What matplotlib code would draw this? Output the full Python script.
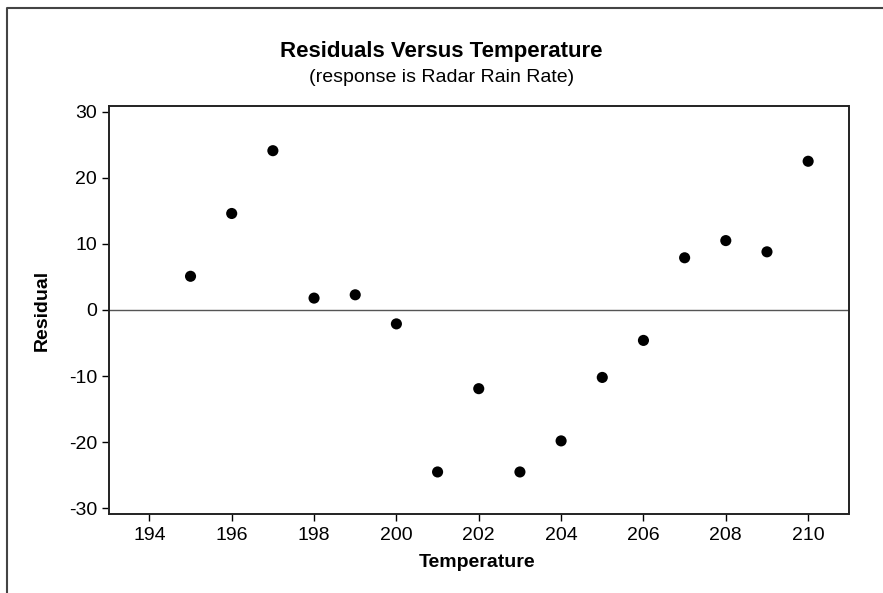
import numpy as np
import matplotlib.pyplot as plt
from matplotlib.lines import Line2D

plt.rcParams['font.family'] = ['Liberation Sans', 'DejaVu Sans']
plt.rcParams['axes.unicode_minus'] = False

# ocitano sa slike
temperatura = [195, 196, 197, 198, 199, 200, 201, 202, 203, 204, 205, 206, 207, 208, 209, 210]
rezidual = [5.1, 14.6, 24.1, 1.8, 2.3, -2.1, -24.5, -11.9, -24.5, -19.8, -10.2, -4.6, 7.9, 10.5, 8.8, 22.5]
xticks = [194, 196, 198, 200, 202, 204, 206, 208, 210]
yticks = [-30, -20, -10, 0, 10, 20, 30]

W, H = 883, 593
fig = plt.figure(figsize=(W/100, H/100), dpi=100)
ax = fig.add_axes([109/W, 1 - 514/H, (848.5 - 109)/W, (514 - 106)/H])

ax.axhline(0, color='#555555', lw=1, zorder=1)
ax.scatter(temperatura, rezidual, s=64, color='black', zorder=3, edgecolors='none')

ax.set_xlim(193.02, 210.98)
ax.set_ylim(-30.86, 30.86)
ax.set_xticks(xticks)
ax.set_yticks(yticks)
ax.tick_params(direction='out', length=5, width=1, labelsize=14, pad=4)
ax.tick_params(axis='y', pad=3.5)
for s in ax.spines.values():
    s.set_linewidth(1.4)
    s.set_color('#222222')

# naslovi i oznake osi
fig.text(0.5, 1 - 57.5/H, 'Residuals Versus Temperature', ha='center', va='baseline',
         fontsize=16, fontweight='bold')
fig.text(0.5, 1 - 82/H, '(response is Radar Rain Rate)', ha='center', va='baseline', fontsize=14)
fig.text(477/W, 1 - 567/H, 'Temperature', ha='center', va='baseline', fontsize=14, fontweight='bold')
fig.text(42.7/W, 1 - 310/H, 'Residual', ha='center', va='center', rotation=90,
         fontsize=14, fontweight='bold')

# okvir (gornja i lijeva linija)
fig.add_artist(Line2D([6.7/W, 6.7/W, 1], [0, 1 - 8/H, 1 - 8/H], transform=fig.transFigure,
                      color='#444444', lw=1.5))

plt.savefig('out.png', dpi=100)
